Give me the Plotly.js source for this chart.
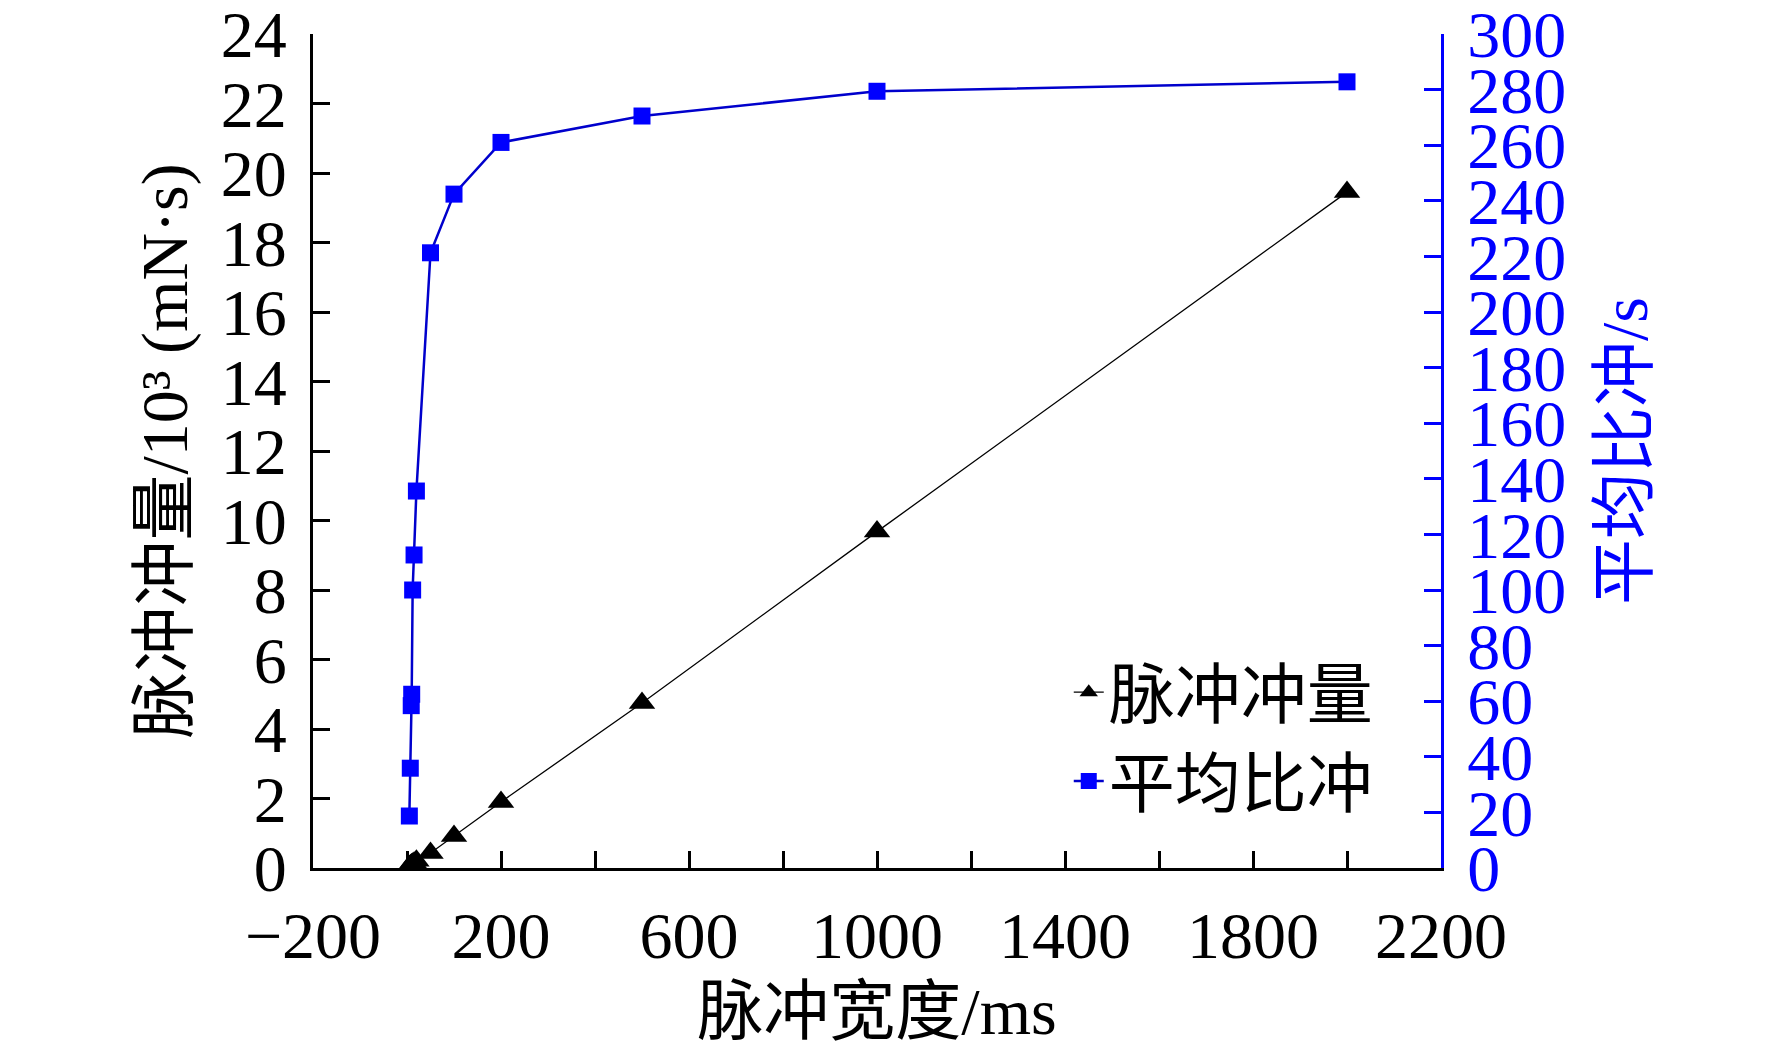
<!DOCTYPE html>
<html>
<head>
<meta charset="utf-8">
<script src="https://cdn.plot.ly/plotly-3.0.1.min.js"></script>
<style>
  html, body { margin: 0; padding: 0; background: #ffffff; }
  #graph { width: 1772px; height: 1048px; }
</style>
</head>
<body>
<div id="graph"></div>
<script>
// pulse width (ms) and the two measured series
var pulseWidth = [5, 7, 9, 10, 12, 15, 20, 50, 100, 200, 500, 1000, 2000];
var impulse = [0.05, 0.07, 0.09, 0.10, 0.12, 0.15, 0.21, 0.43, 0.92, 1.90, 4.75, 9.68, 19.45];
var specImpulse = [18.7, 35.9, 58.4, 62.5, 100.0, 112.6, 135.6, 221.3, 242.4, 261.0, 270.5, 279.4, 282.8];

var xTickVals = [-200, 0, 200, 400, 600, 800, 1000, 1200, 1400, 1600, 1800, 2000, 2200];
var xTickText = ['\u2212200', '', '200', '', '600', '', '1000', '', '1400', '', '1800', '', '2200'];

var serif = '"Liberation Serif", "Times New Roman", "Noto Sans CJK SC", serif';
var blue = '#0000ff';

var impulseTrace = {
    name: '脉冲冲量',
    x: pulseWidth,
    y: impulse,
    mode: 'lines+markers',
    line: { color: '#000000', width: 1.3 },
    marker: { symbol: 'triangle-up', size: 23, color: '#000000' }
};

var specTrace = {
    name: '平均比冲',
    x: pulseWidth,
    y: specImpulse,
    yaxis: 'y2',
    mode: 'lines+markers',
    line: { color: '#0000cc', width: 2.5 },
    marker: { symbol: 'square', size: 17, color: blue }
};

var layout = {
    width: 1772,
    height: 1048,
    margin: { l: 313, r: 331, t: 34, b: 180 },
    paper_bgcolor: '#ffffff',
    plot_bgcolor: '#ffffff',
    font: { family: serif, size: 66, color: '#000000' },
    showlegend: true,
    legend: {
        x: 0.67,
        y: 0.27,
        xanchor: 'left',
        yanchor: 'top',
        bgcolor: 'rgba(0,0,0,0)',
        font: { family: serif, size: 66, color: '#000000' }
    },
    xaxis: {
        range: [-200, 2200],
        autorange: false,
        tickmode: 'array',
        tickvals: xTickVals,
        ticktext: xTickText,
        ticks: 'inside',
        ticklen: 17,
        tickwidth: 3,
        tickcolor: '#000000',
        showline: true,
        linecolor: '#000000',
        linewidth: 3,
        showgrid: false,
        zeroline: false,
        ticklabelstandoff: 8,
        ticklabeloverflow: 'allow',
        tickfont: { family: serif, size: 66, color: '#000000' },
        title: { text: '脉冲宽度/ms', standoff: 28, font: { family: serif, size: 66, color: '#000000' } }
    },
    yaxis: {
        range: [0, 24],
        autorange: false,
        dtick: 2,
        ticks: 'inside',
        ticklen: 17,
        tickwidth: 3,
        tickcolor: '#000000',
        showline: true,
        linecolor: '#000000',
        linewidth: 3,
        showgrid: false,
        zeroline: false,
        ticklabelstandoff: 10,
        ticklabeloverflow: 'allow',
        tickfont: { family: serif, size: 66, color: '#000000' },
        title: { text: '脉冲冲量/10³ (mN·s)', standoff: 12, font: { family: serif, size: 66, color: '#000000' } }
    },
    yaxis2: {
        range: [0, 300],
        autorange: false,
        dtick: 20,
        overlaying: 'y',
        side: 'right',
        anchor: 'x',
        ticks: 'inside',
        ticklen: 17,
        tickwidth: 3,
        tickcolor: blue,
        showline: true,
        linecolor: blue,
        linewidth: 3,
        showgrid: false,
        zeroline: false,
        ticklabelstandoff: 10,
        ticklabeloverflow: 'allow',
        tickfont: { family: serif, size: 66, color: blue },
        title: { text: '平均比冲/s', standoff: 36, font: { family: serif, size: 66, color: blue } }
    }
};

var graph = document.getElementById('graph');
Plotly.newPlot(graph, [impulseTrace, specTrace], layout, { staticPlot: true });
</script>
</body>
</html>
